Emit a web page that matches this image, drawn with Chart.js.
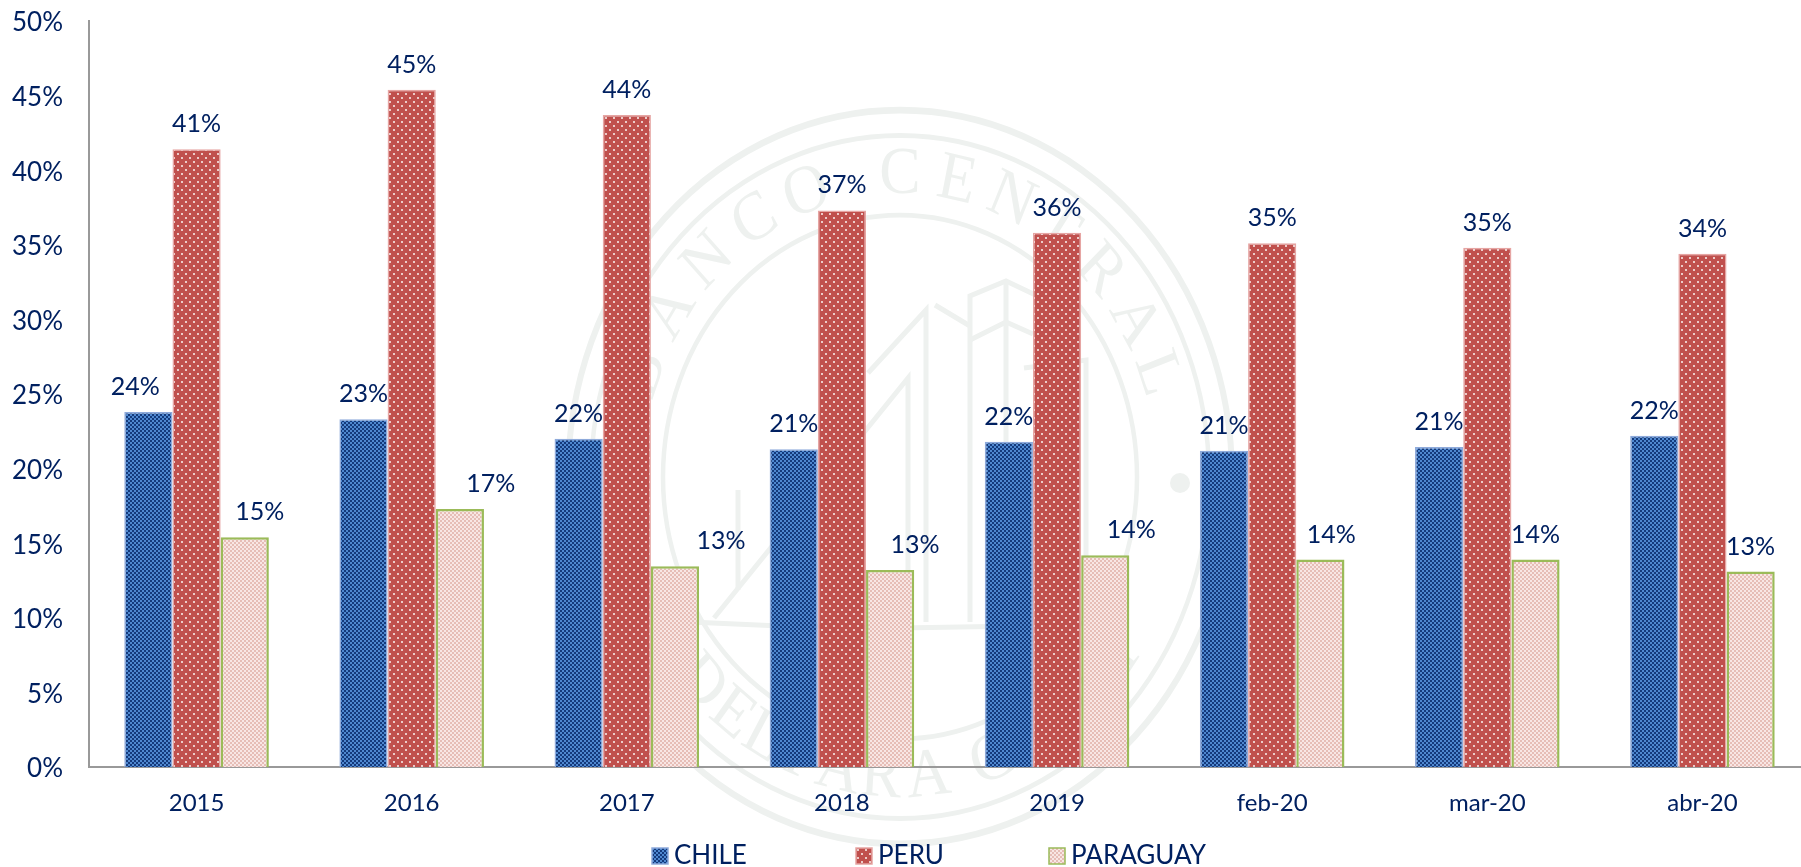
<!DOCTYPE html>
<html><head><meta charset="utf-8">
<style>html,body{margin:0;padding:0;background:#fff;overflow:hidden;width:1801px;height:867px}
#w{position:absolute;left:0;top:0;width:1810px;height:867px}</style>
<script src="https://cdn.jsdelivr.net/npm/chart.js@4"></script></head>
<body><div id="w"><canvas id="c" width="1810" height="867"></canvas></div>
<script>
const categories=['2015','2016','2017','2018','2019','feb-20','mar-20','abr-20'];
const chile=[23.8,23.3,22.0,21.3,21.8,21.2,21.45,22.2];
const peru=[41.4,45.4,43.7,37.3,35.8,35.1,34.8,34.4];
const paraguay=[15.4,17.3,13.45,13.2,14.2,13.9,13.9,13.1];
const yTicks=[0,5,10,15,20,25,30,35,40,45,50];
const NAVY='#002060',FONT='Lato, "Open Sans", sans-serif';
const ctx=document.getElementById('c').getContext('2d');
function tile(w,h,fn){const c=document.createElement('canvas');c.width=w;c.height=h;const g=c.getContext('2d');fn(g);return ctx.createPattern(c,'repeat');}
const pBlue=tile(4,4,g=>{g.fillStyle='#143a7c';g.fillRect(0,0,4,4);g.fillStyle='#4f88d0';g.fillRect(0,0,2,2);g.fillRect(2,2,2,2);});
const pRed=tile(8,8,g=>{g.fillStyle='#c0504d';g.fillRect(0,0,8,8);g.fillStyle='#eccbc9';g.fillRect(1,1,2,2);g.fillRect(5,5,2,2);});
const pPale=tile(4,4,g=>{g.fillStyle='#f8e6e4';g.fillRect(0,0,4,4);g.fillStyle='#e6bdb6';g.fillRect(0,0,2,2);g.fillRect(2,2,2,2);});
const sealLetters=[['B',-70],['A',-57],['N',-44.5],['C',-32],['O',-20],['C',0],['E',12],['N',24],['T',35],['R',47],['A',59],['L',70]];
const sealLower=[['D',-47],['E',-38],['L',-30],['P',-21],['A',-13],['R',-4],['A',6],['G',20],['U',33],['A',44],['Y',54]];
const sealLines=[[[714,618],[908,378],[908,618]],[[738,590],[738,490]],[[868,373],[926,310],[926,622]],[[935,305],[970,326]],[[970,622],[970,296],[1006,281],[1046,300]],[[970,340],[1006,322],[1033,334]],[[1006,281],[1006,622]],[[1024,368],[1086,360],[1086,618]],[[690,622],[780,626],[900,628],[1020,626],[1110,622]]];
const seal={id:'seal',beforeDraw(ch){const g=ch.ctx,C='#eef1ef';g.save();g.strokeStyle=C;g.fillStyle=C;
 g.lineWidth=5;sealLines.forEach(l=>{g.beginPath();l.forEach((p,i)=>i?g.lineTo(p[0],p[1]):g.moveTo(p[0],p[1]));g.stroke();});
 g.beginPath();g.arc(1180,483,10,0,7);g.fill();
 g.translate(900,477);g.scale(1,1.105);
 [[332,6],[309,4.5],[237,4.5]].forEach(([r,w])=>{g.lineWidth=w;g.beginPath();g.arc(0,0,r,0,7);g.stroke();});
 g.font='62px "Liberation Serif", serif';g.textAlign='center';g.textBaseline='middle';
 sealLetters.forEach(([t,d])=>{const a=d*Math.PI/180;g.save();g.translate(273*Math.sin(a),-273*Math.cos(a));g.rotate(a);g.fillText(t,0,0);g.restore();});
 sealLower.forEach(([t,d])=>{const a=d*Math.PI/180;g.save();g.translate(273*Math.sin(a),273*Math.cos(a));g.rotate(-a);g.fillText(t,0,0);g.restore();});
 g.restore();}};
const labelShift=[[-13,0,0,0,0,0,0,0],[0,0,0,0,0,0,0,0],[15,31,46,25,26,11,0,0]];
const labelsPlugin={id:'labels',afterDatasetsDraw(ch){const g=ch.ctx;g.save();g.fillStyle=NAVY;g.font='25px '+FONT;g.textAlign='center';g.textBaseline='alphabetic';
 ch.data.datasets.forEach((d,i)=>{ch.getDatasetMeta(i).data.forEach((b,j)=>{g.fillText(Math.round(d.data[j])+'%',b.x+labelShift[i][j],b.y-17);});});
 g.restore();}};
const legendX=[652,856,1049];
const legendPlugin={id:'legendRow',afterDraw(ch){const g=ch.ctx;g.save();g.font='26px '+FONT;g.textBaseline='alphabetic';g.textAlign='left';
 ch.data.datasets.forEach((d,i)=>{const x=legendX[i];g.fillStyle=d.backgroundColor;g.fillRect(x,848,16,16);g.strokeStyle=d.borderColor;g.lineWidth=1.5;g.strokeRect(x,848,16,16);g.fillStyle=NAVY;g.fillText(d.label,x+22,864);});
 g.restore();}};
new Chart(ctx,{type:'bar',
 data:{labels:categories,datasets:[
  {label:'CHILE',data:chile,backgroundColor:pBlue,borderColor:'#8eaadb',borderWidth:1.5},
  {label:'PERU',data:peru,backgroundColor:pRed,borderColor:'#e6a5a3',borderWidth:1.5},
  {label:'PARAGUAY',data:paraguay,backgroundColor:pPale,borderColor:'#9bbb59',borderWidth:2.5}]},
 options:{responsive:false,animation:false,
  layout:{padding:{left:0,right:0,top:21,bottom:0}},
  datasets:{bar:{barPercentage:1,categoryPercentage:0.672}},
  plugins:{legend:{display:false},tooltip:{enabled:false}},
  scales:{
   x:{afterFit(a){a.height=100;a.paddingLeft=0;a.paddingRight=0;},grid:{display:false,drawTicks:false},border:{color:'#999',width:2},ticks:{color:NAVY,font:{family:FONT,size:24},padding:22,maxRotation:0}},
   y:{min:0,max:50,afterBuildTicks(a){a.ticks=yTicks.map(v=>({value:v}));},afterFit(a){a.width=89;a.paddingTop=0;a.paddingBottom=0;},grid:{display:false,drawTicks:false},border:{color:'#999',width:2},ticks:{color:NAVY,font:{family:FONT,size:26},padding:26,labelOffset:2,callback:v=>v+'%'}}
  }},
 plugins:[seal,labelsPlugin,legendPlugin]
});
</script></body></html>
